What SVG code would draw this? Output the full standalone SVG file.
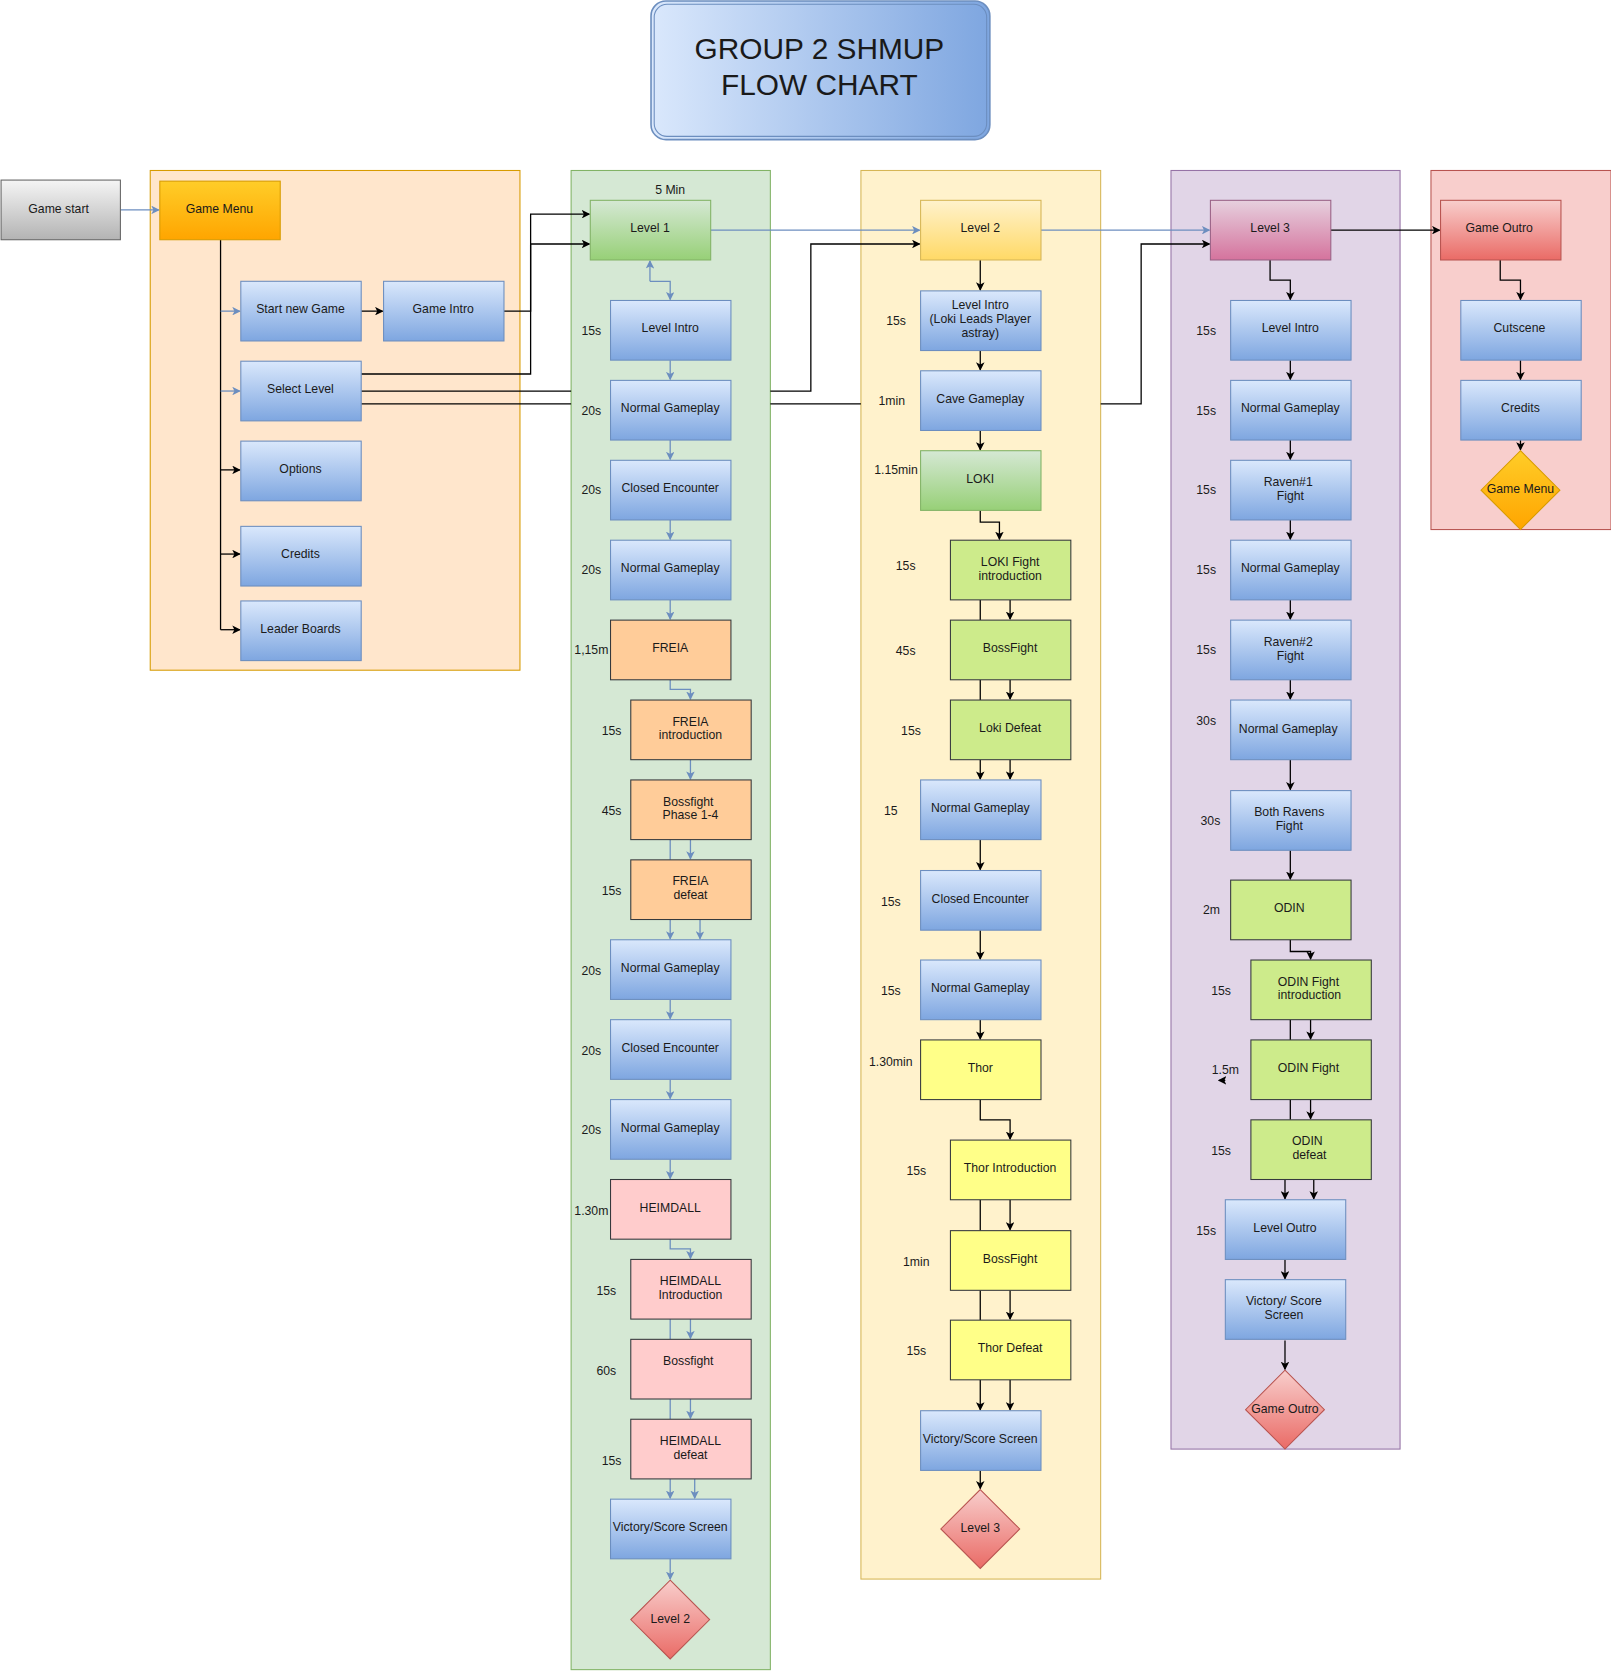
<svg xmlns="http://www.w3.org/2000/svg" width="1611" height="1671" viewBox="0 0 1611 1671">
<style>
text{font-family:"Liberation Sans",Arial,sans-serif;font-size:11.5px;fill:#1a1a1a;text-anchor:middle;dominant-baseline:middle}
.bl{fill:url(#gb);stroke:#6c8ebf}
.gr{fill:url(#gg);stroke:#82b366}
.or{fill:#ffcc99;stroke:#36393d}
.pk{fill:#ffcccc;stroke:#36393d}
.lg{fill:#cdeb8b;stroke:#36393d}
.ye{fill:#ffff88;stroke:#36393d}
.k{fill:none;stroke:#000;stroke-width:1.2;marker-end:url(#ak)}
.kn{fill:none;stroke:#000;stroke-width:1.2}
.u{fill:none;stroke:#6c8ebf;stroke-width:1.2;marker-end:url(#au)}
.un{fill:none;stroke:#6c8ebf;stroke-width:1.2}
</style>
<defs>
<linearGradient id="gb" x1="0" y1="0" x2="0" y2="1"><stop offset="0" stop-color="#dae8fc"/><stop offset="1" stop-color="#7ea6e0"/></linearGradient>
<linearGradient id="gg" x1="0" y1="0" x2="0" y2="1"><stop offset="0" stop-color="#d5e8d4"/><stop offset="1" stop-color="#97d077"/></linearGradient>
<linearGradient id="gy" x1="0" y1="0" x2="0" y2="1"><stop offset="0" stop-color="#fff2cc"/><stop offset="1" stop-color="#ffd966"/></linearGradient>
<linearGradient id="gp" x1="0" y1="0" x2="0" y2="1"><stop offset="0" stop-color="#e6d0de"/><stop offset="1" stop-color="#d5739d"/></linearGradient>
<linearGradient id="gr" x1="0" y1="0" x2="0" y2="1"><stop offset="0" stop-color="#f8cecc"/><stop offset="1" stop-color="#ea6b66"/></linearGradient>
<linearGradient id="go" x1="0" y1="0" x2="0" y2="1"><stop offset="0" stop-color="#ffcd28"/><stop offset="1" stop-color="#ffa500"/></linearGradient>
<linearGradient id="gs" x1="0" y1="0" x2="0" y2="1"><stop offset="0" stop-color="#f5f5f5"/><stop offset="1" stop-color="#b3b3b3"/></linearGradient>
<linearGradient id="gt" x1="0" y1="0" x2="1" y2="0"><stop offset="0" stop-color="#dae8fc"/><stop offset="1" stop-color="#7ea6e0"/></linearGradient>
<marker id="ak" markerWidth="8" markerHeight="8" refX="7" refY="4" orient="auto" markerUnits="userSpaceOnUse"><path d="M0,0 L8,4 L0,8 L2,4 Z" fill="#000"/></marker>
<marker id="au" markerWidth="8" markerHeight="8" refX="7" refY="4" orient="auto" markerUnits="userSpaceOnUse"><path d="M0,0 L8,4 L0,8 L2,4 Z" fill="#6c8ebf"/></marker>
</defs>
<rect width="1611" height="1671" fill="#fff"/>
<g transform="scale(1.0655)">
<g id="containers">
<rect x="141" y="160" width="347" height="469" fill="#ffe6cc" stroke="#d79b00"/>
<rect x="536" y="160" width="187" height="1407" fill="#d5e8d4" stroke="#82b366"/>
<rect x="808" y="160" width="225" height="1322" fill="#fff2cc" stroke="#d6b656"/>
<rect x="1099" y="160" width="215" height="1200" fill="#e1d5e7" stroke="#9673a6"/>
<rect x="1343" y="160" width="169" height="337" fill="#f8cecc" stroke="#b85450"/>
</g>
<g id="title"><rect x="611" y="1" width="318" height="130" rx="14" fill="url(#gt)" stroke="#6c8ebf" stroke-width="1.5"/><rect x="614" y="4" width="312" height="124" rx="12" fill="none" stroke="#6c8ebf"/><text x="769" y="48" style="font-size:28px">GROUP 2 SHMUP</text><text x="769" y="82" style="font-size:28px">FLOW CHART</text></g>
<g id="connectors">
<path class="u" d="M113,197H149"/>
<path class="kn" d="M207,225V591"/>
<path class="u" d="M207,292H225"/><path class="u" d="M207,367H225"/>
<path class="k" d="M207,441H225"/><path class="k" d="M207,520H225"/><path class="k" d="M207,591H225"/>
<path class="k" d="M339,292H359"/>
<path class="k" d="M473,292H498V201H553"/>
<path class="k" d="M339,351H498V229H553"/>
<path class="kn" d="M339,367H536"/><path class="kn" d="M339,379H536"/>
<path class="k" d="M723,367H761V229H863"/>
<path class="kn" d="M723,379H808"/>
<path class="k" d="M1033,379H1071V229H1135"/>
<path class="u" d="M667,216H863"/><path class="u" d="M977,216H1135"/><path class="k" d="M1249,216H1351"/>
<path class="u" d="M610,264V245"/><path class="u" d="M610,264H629V281"/>
<path class="u" d="M629,338V356"/><path class="u" d="M629,413V431"/><path class="u" d="M629,488V506"/><path class="u" d="M629,563V581"/>
<path class="u" d="M629,638V647H648V656"/>
<path class="u" d="M648,713V731"/><path class="un" d="M629,788V807"/><path class="u" d="M648,788V806"/>
<path class="u" d="M629,863V881"/><path class="u" d="M657,863V881"/>
<path class="u" d="M629,938V956"/><path class="u" d="M629,1013V1031"/><path class="u" d="M629,1088V1106"/>
<path class="u" d="M629,1163V1172H648V1181"/>
<path class="un" d="M629,1238V1257"/><path class="u" d="M648,1238V1256"/>
<path class="un" d="M629,1313V1332"/><path class="u" d="M648,1313V1331"/>
<path class="u" d="M629,1388V1406"/><path class="u" d="M652,1388V1406"/>
<path class="u" d="M629,1463V1482"/>
<path class="k" d="M920,244V272"/><path class="k" d="M920,329V347"/><path class="k" d="M920,404V422"/>
<path class="k" d="M920,479V490H938V506"/>
<path class="kn" d="M920,563V582"/><path class="k" d="M948,563V581"/>
<path class="kn" d="M920,638V657"/><path class="k" d="M948,638V656"/>
<path class="k" d="M920,713V731"/><path class="k" d="M948,713V731"/>
<path class="k" d="M920,788V816"/><path class="k" d="M920,873V900"/><path class="k" d="M920,957V975"/>
<path class="k" d="M920,1032V1051H948V1069"/>
<path class="kn" d="M920,1126V1155"/><path class="k" d="M948,1126V1154"/>
<path class="kn" d="M920,1211V1239"/><path class="k" d="M948,1211V1238"/>
<path class="k" d="M920,1295V1323"/><path class="k" d="M948,1295V1323"/>
<path class="k" d="M920,1380V1397"/>
<path class="k" d="M1192,244V263H1211V281"/>
<path class="k" d="M1211,338V356"/><path class="k" d="M1211,413V431"/><path class="k" d="M1211,488V506"/><path class="k" d="M1211,563V581"/><path class="k" d="M1211,638V656"/><path class="k" d="M1211,713V741"/><path class="k" d="M1211,798V825"/>
<path class="k" d="M1211,882V893H1230V900"/>
<path class="kn" d="M1211,957V976"/><path class="k" d="M1230,957V975"/>
<path class="kn" d="M1211,1032V1051"/><path class="k" d="M1230,1032V1050"/>
<path class="k" d="M1206,1107V1125"/><path class="k" d="M1233,1107V1125"/>
<path class="k" d="M1206,1182V1200"/><path class="k" d="M1206,1258V1285"/>
<path class="k" d="M1150,1014H1144"/>
<path class="k" d="M1408,244V263H1427V281"/><path class="k" d="M1427,338V356"/><path class="k" d="M1427,413V422"/>
</g>
<g id="n-gamestart"><rect x="1" y="169" width="112" height="56" fill="url(#gs)" stroke="#666"/><text x="55" y="197">Game start</text></g>
<g id="n-gamemenu"><rect x="150" y="170" width="113" height="55" fill="url(#go)" stroke="#d79b00"/><text x="206" y="197">Game Menu</text></g>
<g id="n-startnew"><rect class="bl" x="226" y="264" width="113" height="56"/><text x="282" y="291">Start new Game</text></g>
<g id="n-gameintro"><rect class="bl" x="360" y="264" width="113" height="56"/><text x="416" y="291">Game Intro</text></g>
<g id="n-selectlevel"><rect class="bl" x="226" y="339" width="113" height="56"/><text x="282" y="366">Select Level</text></g>
<g id="n-options"><rect class="bl" x="226" y="414" width="113" height="56"/><text x="282" y="441">Options</text></g>
<g id="n-credits"><rect class="bl" x="226" y="494" width="113" height="56"/><text x="282" y="521">Credits</text></g>
<g id="n-leader"><rect class="bl" x="226" y="564" width="113" height="56"/><text x="282" y="591">Leader Boards</text></g>
<g id="l1-labels"><text x="629" y="179">5 Min</text><text x="555" y="311">15s</text><text x="555" y="386">20s</text><text x="555" y="461">20s</text><text x="555" y="536">20s</text><text x="555" y="611">1,15m</text><text x="574" y="687">15s</text><text x="574" y="762">45s</text><text x="574" y="837">15s</text><text x="555" y="912">20s</text><text x="555" y="987">20s</text><text x="555" y="1061">20s</text><text x="555" y="1137">1.30m</text><text x="569" y="1212">15s</text><text x="569" y="1287">60s</text><text x="574" y="1372">15s</text></g>
<g id="n-level1"><rect class="gr" x="554" y="188" width="113" height="56"/><text x="610" y="215">Level 1</text></g>
<g id="n-l1intro"><rect class="bl" x="573" y="282" width="113" height="56"/><text x="629" y="309">Level Intro</text></g>
<g id="n-l1ng1"><rect class="bl" x="573" y="357" width="113" height="56"/><text x="629" y="384">Normal Gameplay</text></g>
<g id="n-l1ce1"><rect class="bl" x="573" y="432" width="113" height="56"/><text x="629" y="459">Closed Encounter</text></g>
<g id="n-l1ng2"><rect class="bl" x="573" y="507" width="113" height="56"/><text x="629" y="534">Normal Gameplay</text></g>
<g id="n-freia"><rect class="or" x="573" y="582" width="113" height="56"/><text x="629" y="609">FREIA</text></g>
<g id="n-freiaintro"><rect class="or" x="592" y="657" width="113" height="56"/><text x="648" y="678">FREIA</text><text x="648" y="691">introduction</text></g>
<g id="n-freiaboss"><rect class="or" x="592" y="732" width="113" height="56"/><text x="646" y="753">Bossfight</text><text x="648" y="766">Phase 1-4</text></g>
<g id="n-freiadef"><rect class="or" x="592" y="807" width="113" height="56"/><text x="648" y="828">FREIA</text><text x="648" y="841">defeat</text></g>
<g id="n-l1ng3"><rect class="bl" x="573" y="882" width="113" height="56"/><text x="629" y="909">Normal Gameplay</text></g>
<g id="n-l1ce2"><rect class="bl" x="573" y="957" width="113" height="56"/><text x="629" y="984">Closed Encounter</text></g>
<g id="n-l1ng4"><rect class="bl" x="573" y="1032" width="113" height="56"/><text x="629" y="1059">Normal Gameplay</text></g>
<g id="n-heim"><rect class="pk" x="573" y="1107" width="113" height="56"/><text x="629" y="1134">HEIMDALL</text></g>
<g id="n-heimintro"><rect class="pk" x="592" y="1182" width="113" height="56"/><text x="648" y="1203">HEIMDALL</text><text x="648" y="1216">Introduction</text></g>
<g id="n-heimboss"><rect class="pk" x="592" y="1257" width="113" height="56"/><text x="646" y="1278">Bossfight</text></g>
<g id="n-heimdef"><rect class="pk" x="592" y="1332" width="113" height="56"/><text x="648" y="1353">HEIMDALL</text><text x="648" y="1366">defeat</text></g>
<g id="n-l1vic"><rect class="bl" x="573" y="1407" width="113" height="56"/><text x="629" y="1434">Victory/Score Screen</text></g>
<g id="n-d-level2"><path d="M629,1483L666,1520L629,1557L592,1520Z" fill="url(#gr)" stroke="#b85450"/><text x="629" y="1520">Level 2</text></g>
<g id="l2-labels"><text x="841" y="302">15s</text><text x="837" y="377">1min</text><text x="841" y="442">1.15min</text><text x="850" y="532">15s</text><text x="850" y="612">45s</text><text x="855" y="687">15s</text><text x="836" y="762">15</text><text x="836" y="847">15s</text><text x="836" y="931">15s</text><text x="836" y="997">1.30min</text><text x="860" y="1100">15s</text><text x="860" y="1185">1min</text><text x="860" y="1269">15s</text></g>
<g id="n-level2"><rect x="864" y="188" width="113" height="56" fill="url(#gy)" stroke="#d6b656"/><text x="920" y="215">Level 2</text></g>
<g id="n-l2intro"><rect class="bl" x="864" y="273" width="113" height="56"/><text x="920" y="287">Level Intro</text><text x="920" y="300">(Loki Leads Player</text><text x="920" y="313">astray)</text></g>
<g id="n-cave"><rect class="bl" x="864" y="348" width="113" height="56"/><text x="920" y="375">Cave Gameplay</text></g>
<g id="n-loki"><rect class="gr" x="864" y="423" width="113" height="56"/><text x="920" y="450">LOKI</text></g>
<g id="n-lokiintro"><rect class="lg" x="892" y="507" width="113" height="56"/><text x="948" y="528">LOKI Fight</text><text x="948" y="541">introduction</text></g>
<g id="n-lokiboss"><rect class="lg" x="892" y="582" width="113" height="56"/><text x="948" y="609">BossFight</text></g>
<g id="n-lokidef"><rect class="lg" x="892" y="657" width="113" height="56"/><text x="948" y="684">Loki Defeat</text></g>
<g id="n-l2ng1"><rect class="bl" x="864" y="732" width="113" height="56"/><text x="920" y="759">Normal Gameplay</text></g>
<g id="n-l2ce"><rect class="bl" x="864" y="817" width="113" height="56"/><text x="920" y="844">Closed Encounter</text></g>
<g id="n-l2ng2"><rect class="bl" x="864" y="901" width="113" height="56"/><text x="920" y="928">Normal Gameplay</text></g>
<g id="n-thor"><rect class="ye" x="864" y="976" width="113" height="56"/><text x="920" y="1003">Thor</text></g>
<g id="n-thorintro"><rect class="ye" x="892" y="1070" width="113" height="56"/><text x="948" y="1097">Thor Introduction</text></g>
<g id="n-thorboss"><rect class="ye" x="892" y="1155" width="113" height="56"/><text x="948" y="1182">BossFight</text></g>
<g id="n-thordef"><rect class="ye" x="892" y="1239" width="113" height="56"/><text x="948" y="1266">Thor Defeat</text></g>
<g id="n-l2vic"><rect class="bl" x="864" y="1324" width="113" height="56"/><text x="920" y="1351">Victory/Score Screen</text></g>
<g id="n-d-level3"><path d="M920,1398L957,1435L920,1472L883,1435Z" fill="url(#gr)" stroke="#b85450"/><text x="920" y="1435">Level 3</text></g>
<g id="l3-labels"><text x="1132" y="311">15s</text><text x="1132" y="386">15s</text><text x="1132" y="461">15s</text><text x="1132" y="536">15s</text><text x="1132" y="611">15s</text><text x="1132" y="677">30s</text><text x="1136" y="771">30s</text><text x="1137" y="855">2m</text><text x="1146" y="931">15s</text><text x="1150" y="1005">1.5m</text><text x="1146" y="1081">15s</text><text x="1132" y="1156">15s</text></g>
<g id="n-level3"><rect x="1136" y="188" width="113" height="56" fill="url(#gp)" stroke="#996185"/><text x="1192" y="215">Level 3</text></g>
<g id="n-l3intro"><rect class="bl" x="1155" y="282" width="113" height="56"/><text x="1211" y="309">Level Intro</text></g>
<g id="n-l3ng1"><rect class="bl" x="1155" y="357" width="113" height="56"/><text x="1211" y="384">Normal Gameplay</text></g>
<g id="n-raven1"><rect class="bl" x="1155" y="432" width="113" height="56"/><text x="1209" y="453">Raven#1</text><text x="1211" y="466">Fight</text></g>
<g id="n-l3ng2"><rect class="bl" x="1155" y="507" width="113" height="56"/><text x="1211" y="534">Normal Gameplay</text></g>
<g id="n-raven2"><rect class="bl" x="1155" y="582" width="113" height="56"/><text x="1209" y="603">Raven#2</text><text x="1211" y="616">Fight</text></g>
<g id="n-l3ng3"><rect class="bl" x="1155" y="657" width="113" height="56"/><text x="1209" y="685">Normal Gameplay</text></g>
<g id="n-bothravens"><rect class="bl" x="1155" y="742" width="113" height="56"/><text x="1210" y="763">Both Ravens</text><text x="1210" y="776">Fight</text></g>
<g id="n-odin"><rect class="lg" x="1155" y="826" width="113" height="56"/><text x="1210" y="853">ODIN</text></g>
<g id="n-odinintro"><rect class="lg" x="1174" y="901" width="113" height="56"/><text x="1228" y="922">ODIN Fight</text><text x="1229" y="935">introduction</text></g>
<g id="n-odinfight"><rect class="lg" x="1174" y="976" width="113" height="56"/><text x="1228" y="1003">ODIN Fight</text></g>
<g id="n-odindef"><rect class="lg" x="1174" y="1051" width="113" height="56"/><text x="1227" y="1072">ODIN</text><text x="1229" y="1085">defeat</text></g>
<g id="n-outro"><rect class="bl" x="1150" y="1126" width="113" height="56"/><text x="1206" y="1153">Level Outro</text></g>
<g id="n-l3vic"><rect class="bl" x="1150" y="1201" width="113" height="56"/><text x="1205" y="1222">Victory/ Score</text><text x="1205" y="1235">Screen</text></g>
<g id="n-d-gameoutro"><path d="M1206,1286L1243,1323L1206,1360L1169,1323Z" fill="url(#gr)" stroke="#b85450"/><text x="1206" y="1323">Game Outro</text></g>
<g id="n-gameoutro"><rect x="1352" y="188" width="113" height="56" fill="url(#gr)" stroke="#b85450"/><text x="1407" y="215">Game Outro</text></g>
<g id="n-cutscene"><rect class="bl" x="1371" y="282" width="113" height="56"/><text x="1426" y="309">Cutscene</text></g>
<g id="n-credits2"><rect class="bl" x="1371" y="357" width="113" height="56"/><text x="1427" y="384">Credits</text></g>
<g id="n-d-gamemenu"><path d="M1427,423L1464,460L1427,497L1390,460Z" fill="url(#go)" stroke="#d79b00"/><text x="1427" y="460">Game Menu</text></g>
</g>
</svg>
